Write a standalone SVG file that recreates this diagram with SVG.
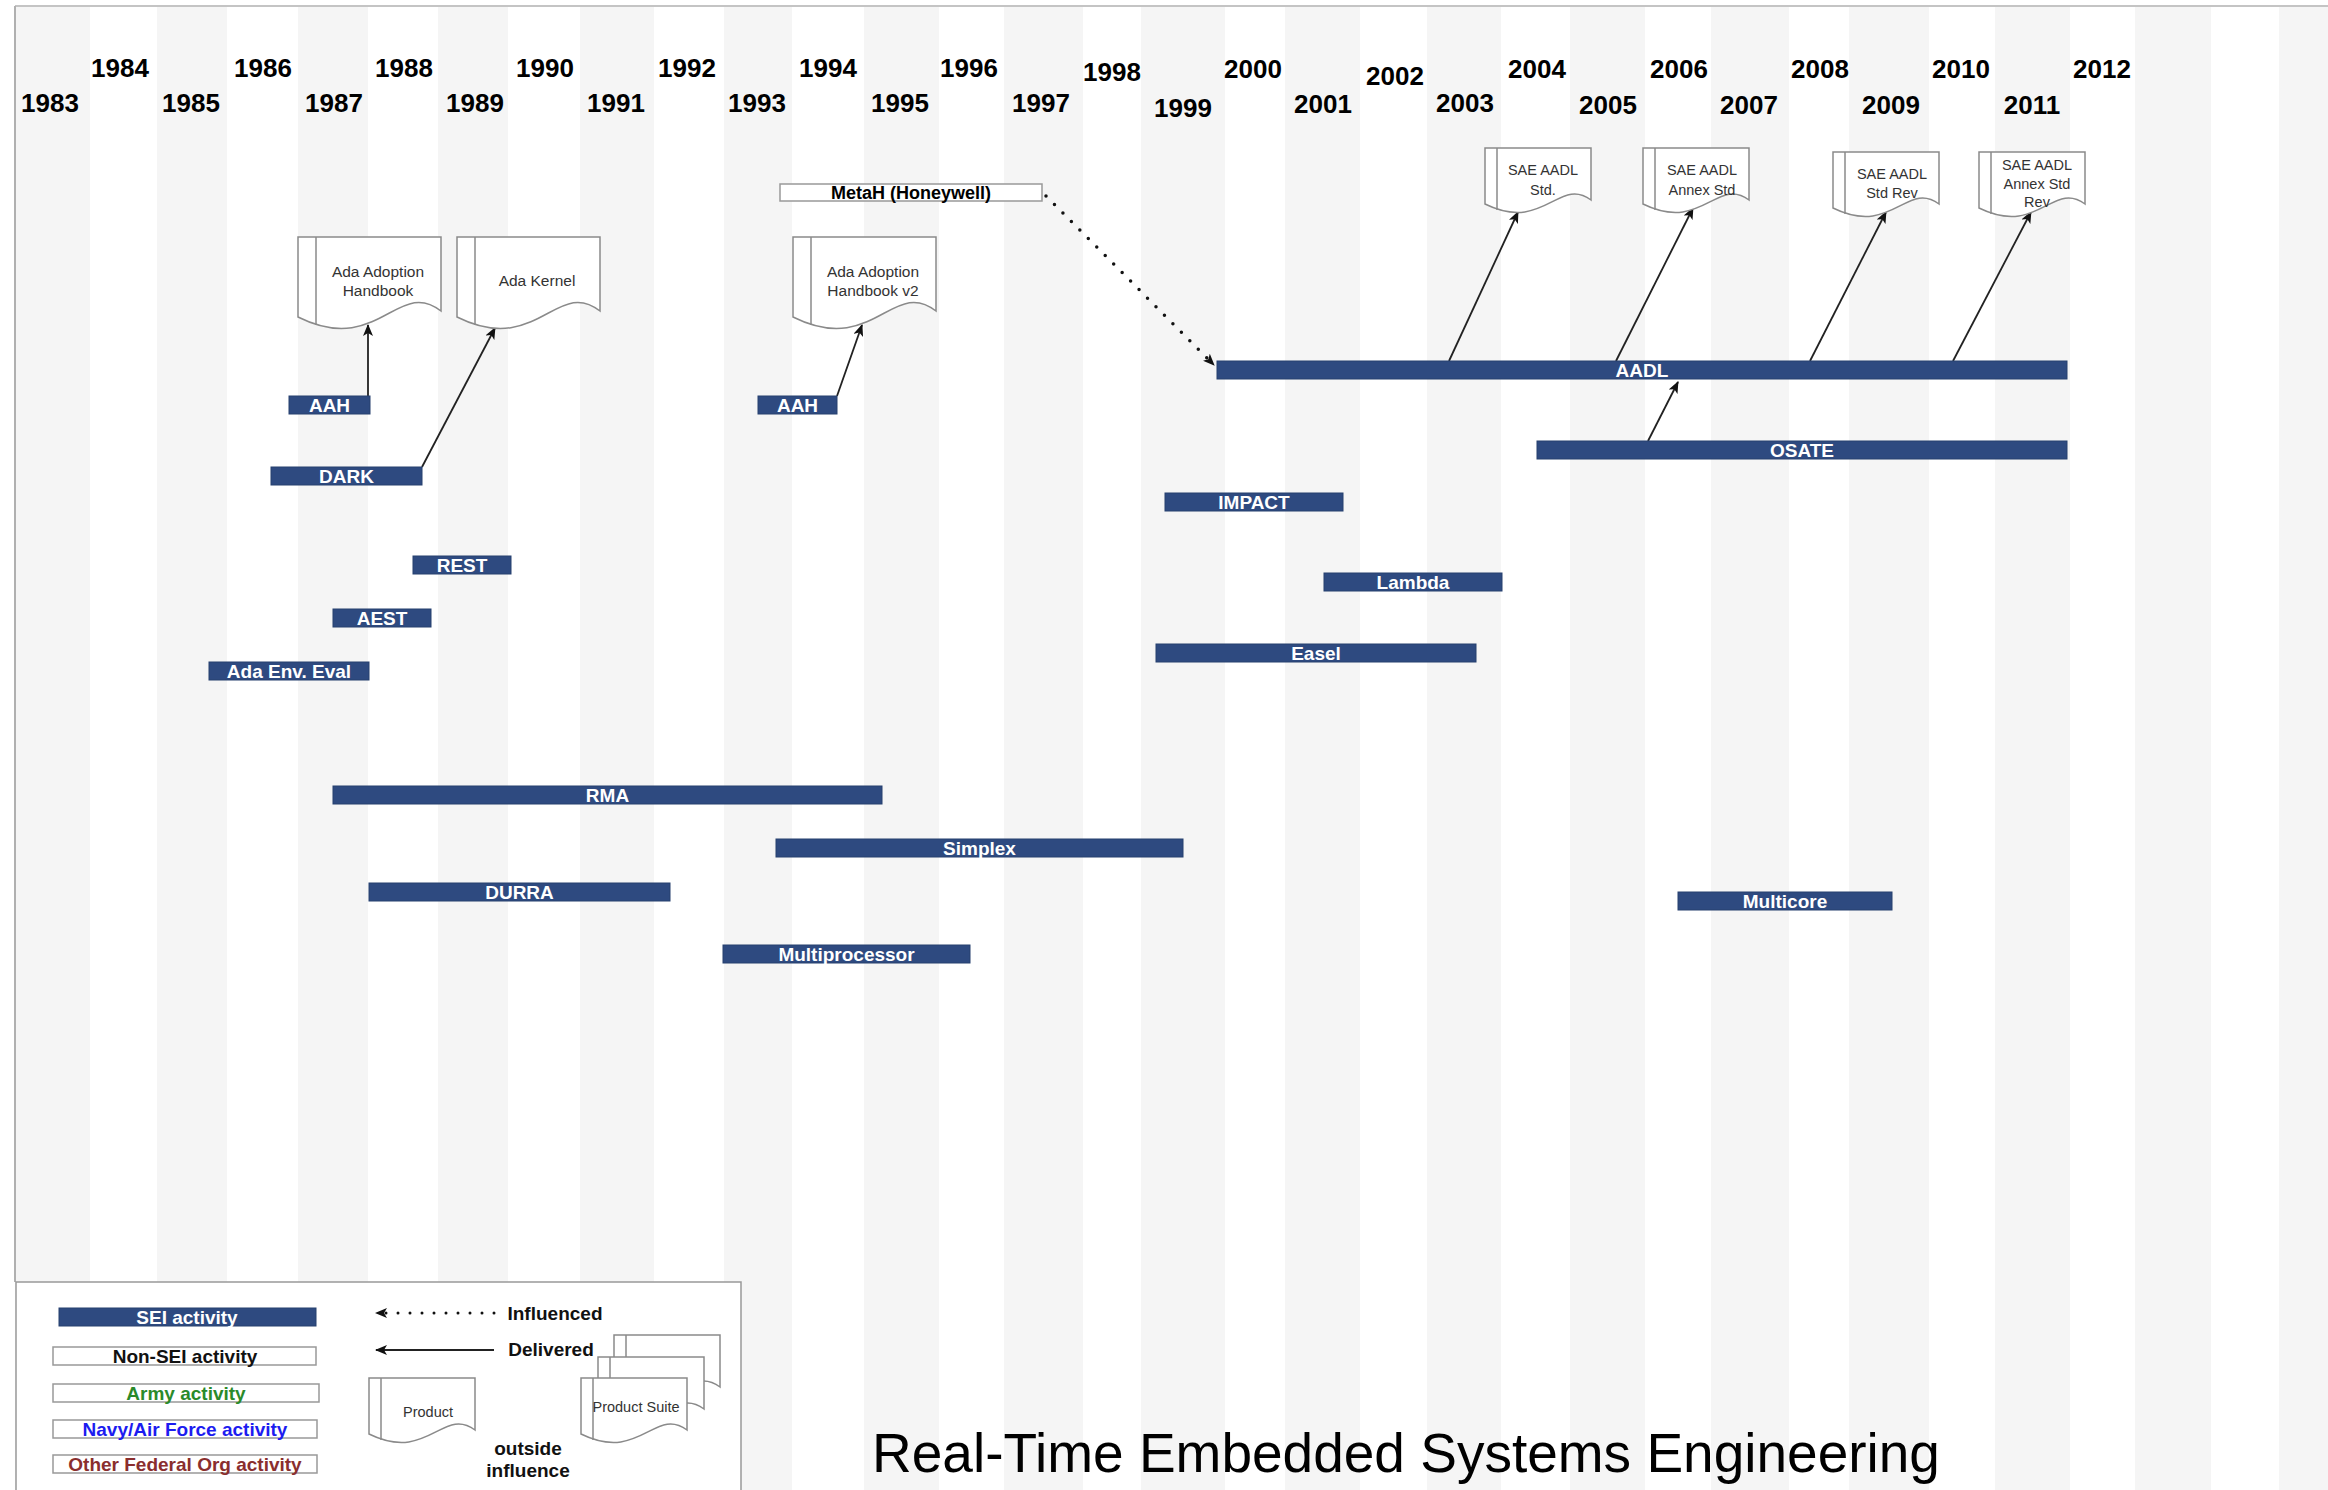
<svg xmlns="http://www.w3.org/2000/svg" xmlns:xlink="http://www.w3.org/1999/xlink" width="2328" height="1490" viewBox="0 0 2328 1490">
  <style>
    .yr { font-family: "Liberation Sans", Arial, sans-serif; font-weight: bold; font-size: 26px; fill: #000; text-anchor: middle; }
    .bar { fill: #2e4a80; stroke: #26406f; stroke-width: 1; }
    .bl { font-family: "Liberation Sans", Arial, sans-serif; font-weight: bold; font-size: 19px; fill: #fff; text-anchor: middle; }
    .box { fill: #fff; stroke: #999; stroke-width: 1.5; }
    .doc { fill: #fff; stroke: #8a8a8a; stroke-width: 1.5; }
    .dt { font-family: "Liberation Sans", Arial, sans-serif; font-size: 15.5px; fill: #333; text-anchor: middle; }
    .st { font-family: "Liberation Sans", Arial, sans-serif; font-size: 14.5px; fill: #333; text-anchor: middle; }
    .lg { font-family: "Liberation Sans", Arial, sans-serif; font-weight: bold; font-size: 19px; text-anchor: middle; }
    .del { stroke: #222; stroke-width: 1.8; fill: none; marker-end: url(#arr); }
    .inf { stroke: #111; stroke-width: 3.5; stroke-linecap: round; stroke-dasharray: 0 12; fill: none; marker-end: url(#arr); }
    .stripe { fill: #f5f5f5; }
  </style>
  <defs>
    <marker id="arr" viewBox="0 0 12 10" refX="11" refY="5" markerWidth="12" markerHeight="10" markerUnits="userSpaceOnUse" orient="auto">
      <path d="M0,0 L12,5 L0,10 L3,5 Z" fill="#111"/>
    </marker>
    <!-- large document shape, 143 x ~90 -->
    <g id="docL">
      <path class="doc" d="M0,0 H143 V74 C100,40 80,120 0,80 Z"/>
      <line x1="18" y1="0" x2="18" y2="88" stroke="#8a8a8a" stroke-width="1.5"/>
    </g>
    <!-- small document shape, 106 x ~64 -->
    <g id="docS">
      <path class="doc" d="M0,0 H106 V52 C74,28 59,85 0,56 Z"/>
      <line x1="12" y1="0" x2="12" y2="62" stroke="#8a8a8a" stroke-width="1.5"/>
    </g>
  </defs>

  <rect width="2328" height="1490" fill="#fff"/>

  <!-- year columns -->
  <g id="columns">
    <rect class="stripe" x="15" y="6" width="75" height="1484"/>
    <rect class="stripe" x="157" y="6" width="70" height="1484"/>
    <rect class="stripe" x="298" y="6" width="70" height="1484"/>
    <rect class="stripe" x="438" y="6" width="70" height="1484"/>
    <rect class="stripe" x="580" y="6" width="74" height="1484"/>
    <rect class="stripe" x="724" y="6" width="68" height="1484"/>
    <rect class="stripe" x="864" y="6" width="75" height="1484"/>
    <rect class="stripe" x="1004" y="6" width="79" height="1484"/>
    <rect class="stripe" x="1141" y="6" width="84" height="1484"/>
    <rect class="stripe" x="1285" y="6" width="75" height="1484"/>
    <rect class="stripe" x="1427" y="6" width="74" height="1484"/>
    <rect class="stripe" x="1570" y="6" width="75" height="1484"/>
    <rect class="stripe" x="1711" y="6" width="78" height="1484"/>
    <rect class="stripe" x="1849" y="6" width="80" height="1484"/>
    <rect class="stripe" x="1995" y="6" width="75" height="1484"/>
    <rect class="stripe" x="2135" y="6" width="76" height="1484"/>
    <rect class="stripe" x="2279" y="6" width="49" height="1484"/>
    <line x1="15" y1="6" x2="2328" y2="6" stroke="#c4c4c4" stroke-width="2"/>
    <line x1="15" y1="6" x2="15" y2="1282" stroke="#b0b0b0" stroke-width="2"/>
  </g>

  <!-- year labels -->
  <g id="years">
    <text class="yr" x="50" y="112">1983</text>
    <text class="yr" x="120" y="77">1984</text>
    <text class="yr" x="191" y="112">1985</text>
    <text class="yr" x="263" y="77">1986</text>
    <text class="yr" x="334" y="112">1987</text>
    <text class="yr" x="404" y="77">1988</text>
    <text class="yr" x="475" y="112">1989</text>
    <text class="yr" x="545" y="77">1990</text>
    <text class="yr" x="616" y="112">1991</text>
    <text class="yr" x="687" y="77">1992</text>
    <text class="yr" x="757" y="112">1993</text>
    <text class="yr" x="828" y="77">1994</text>
    <text class="yr" x="900" y="112">1995</text>
    <text class="yr" x="969" y="77">1996</text>
    <text class="yr" x="1041" y="112">1997</text>
    <text class="yr" x="1112" y="81">1998</text>
    <text class="yr" x="1183" y="117">1999</text>
    <text class="yr" x="1253" y="78">2000</text>
    <text class="yr" x="1323" y="113">2001</text>
    <text class="yr" x="1395" y="85">2002</text>
    <text class="yr" x="1465" y="112">2003</text>
    <text class="yr" x="1537" y="78">2004</text>
    <text class="yr" x="1608" y="114">2005</text>
    <text class="yr" x="1679" y="78">2006</text>
    <text class="yr" x="1749" y="114">2007</text>
    <text class="yr" x="1820" y="78">2008</text>
    <text class="yr" x="1891" y="114">2009</text>
    <text class="yr" x="1961" y="78">2010</text>
    <text class="yr" x="2032" y="114">2011</text>
    <text class="yr" x="2102" y="78">2012</text>
  </g>

  <!-- connectors -->
  <g id="connectors">
    <line class="del" x1="368" y1="396" x2="368" y2="325"/>
    <line class="del" x1="422" y1="467" x2="495" y2="328"/>
    <line class="del" x1="837" y1="396" x2="862" y2="325"/>
    <line class="inf" x1="1046" y1="196" x2="1214" y2="365"/>
    <line class="del" x1="1449" y1="361" x2="1518" y2="212"/>
    <line class="del" x1="1616" y1="361" x2="1693" y2="208"/>
    <line class="del" x1="1810" y1="361" x2="1886" y2="212"/>
    <line class="del" x1="1953" y1="361" x2="2031" y2="212"/>
    <line class="del" x1="1648" y1="441" x2="1678" y2="382"/>
  </g>

  <!-- products -->
  <g id="doc-ada-handbook">
    <use xlink:href="#docL" x="298" y="237"/>
    <text class="dt" x="378" y="277">Ada Adoption</text>
    <text class="dt" x="378" y="296">Handbook</text>
  </g>
  <g id="doc-ada-kernel">
    <use xlink:href="#docL" x="457" y="237"/>
    <text class="dt" x="537" y="286">Ada Kernel</text>
  </g>
  <g id="doc-ada-handbook-v2">
    <use xlink:href="#docL" x="793" y="237"/>
    <text class="dt" x="873" y="277">Ada Adoption</text>
    <text class="dt" x="873" y="296">Handbook v2</text>
  </g>
  <g id="doc-sae-std">
    <use xlink:href="#docS" x="1485" y="148"/>
    <text class="st" x="1543" y="175">SAE AADL</text>
    <text class="st" x="1543" y="195">Std.</text>
  </g>
  <g id="doc-sae-annex">
    <use xlink:href="#docS" x="1643" y="148"/>
    <text class="st" x="1702" y="175">SAE AADL</text>
    <text class="st" x="1702" y="195">Annex Std</text>
  </g>
  <g id="doc-sae-std-rev">
    <use xlink:href="#docS" x="1833" y="152"/>
    <text class="st" x="1892" y="179">SAE AADL</text>
    <text class="st" x="1892" y="198">Std Rev</text>
  </g>
  <g id="doc-sae-annex-rev">
    <use xlink:href="#docS" x="1979" y="152"/>
    <text class="st" x="2037" y="170">SAE AADL</text>
    <text class="st" x="2037" y="189">Annex Std</text>
    <text class="st" x="2037" y="207">Rev</text>
  </g>

  <!-- activities -->
  <g id="metah">
    <rect class="box" x="780" y="184" width="262" height="17"/>
    <text class="lg" x="911" y="199" style="font-size:18px" fill="#000">MetaH (Honeywell)</text>
  </g>
  <g id="aah-1"><rect class="bar" x="289" y="396" width="81" height="18"/><text class="bl" x="329.5" y="412">AAH</text></g>
  <g id="dark"><rect class="bar" x="271" y="467" width="151" height="18"/><text class="bl" x="346.5" y="483">DARK</text></g>
  <g id="aah-2"><rect class="bar" x="758" y="396" width="79" height="18"/><text class="bl" x="797.5" y="412">AAH</text></g>
  <g id="rest"><rect class="bar" x="413" y="556" width="98" height="18"/><text class="bl" x="462" y="572">REST</text></g>
  <g id="aest"><rect class="bar" x="333" y="609" width="98" height="18"/><text class="bl" x="382" y="625">AEST</text></g>
  <g id="ada-env-eval"><rect class="bar" x="209" y="662" width="160" height="18"/><text class="bl" x="289" y="678">Ada Env. Eval</text></g>
  <g id="impact"><rect class="bar" x="1165" y="493" width="178" height="18"/><text class="bl" x="1254" y="509">IMPACT</text></g>
  <g id="lambda"><rect class="bar" x="1324" y="573" width="178" height="18"/><text class="bl" x="1413" y="589">Lambda</text></g>
  <g id="easel"><rect class="bar" x="1156" y="644" width="320" height="18"/><text class="bl" x="1316" y="660">Easel</text></g>
  <g id="aadl"><rect class="bar" x="1217" y="361" width="850" height="18"/><text class="bl" x="1642" y="377">AADL</text></g>
  <g id="osate"><rect class="bar" x="1537" y="441" width="530" height="18"/><text class="bl" x="1802" y="457">OSATE</text></g>
  <g id="rma"><rect class="bar" x="333" y="786" width="549" height="18"/><text class="bl" x="607.5" y="802">RMA</text></g>
  <g id="simplex"><rect class="bar" x="776" y="839" width="407" height="18"/><text class="bl" x="979.5" y="855">Simplex</text></g>
  <g id="durra"><rect class="bar" x="369" y="883" width="301" height="18"/><text class="bl" x="519.5" y="899">DURRA</text></g>
  <g id="multiprocessor"><rect class="bar" x="723" y="945" width="247" height="18"/><text class="bl" x="846.5" y="961">Multiprocessor</text></g>
  <g id="multicore"><rect class="bar" x="1678" y="892" width="214" height="18"/><text class="bl" x="1785" y="908">Multicore</text></g>

  <!-- key -->
  <g id="legend">
    <rect x="16" y="1282" width="725" height="210" fill="#fff" stroke="#999" stroke-width="1.5"/>
    <rect class="bar" x="59" y="1308" width="257" height="18"/>
    <text class="bl" x="187" y="1324">SEI activity</text>
    <rect class="box" x="53" y="1347" width="263" height="18"/>
    <text class="lg" x="185" y="1363" fill="#111">Non-SEI activity</text>
    <rect class="box" x="53" y="1384" width="266" height="18"/>
    <text class="lg" x="186" y="1400" fill="#2a8a2a">Army activity</text>
    <rect class="box" x="53" y="1420" width="264" height="18"/>
    <text class="lg" x="185" y="1436" fill="#1c1cf0">Navy/Air Force activity</text>
    <rect class="box" x="53" y="1455" width="264" height="18"/>
    <text class="lg" x="185" y="1471" fill="#8a2e2e">Other Federal Org activity</text>

    <line class="inf" x1="494" y1="1313" x2="376" y2="1313" style="stroke-width:3"/>
    <text class="lg" x="555" y="1320" fill="#111">Influenced</text>
    <line class="del" x1="494" y1="1350" x2="376" y2="1350"/>
    <text class="lg" x="551" y="1356" fill="#111">Delivered</text>

    <use xlink:href="#docS" x="369" y="1378"/>
    <text class="st" x="428" y="1417">Product</text>

    <use xlink:href="#docS" x="614" y="1335"/>
    <use xlink:href="#docS" x="598" y="1357"/>
    <use xlink:href="#docS" x="581" y="1378"/>
    <text class="st" x="636" y="1412">Product Suite</text>

    <text class="lg" x="528" y="1455" fill="#111">outside</text>
    <text class="lg" x="528" y="1477" fill="#111">influence</text>
  </g>

  <text id="title" x="1406" y="1472" font-family="'Liberation Sans', Arial, sans-serif" font-size="55" fill="#000" text-anchor="middle">Real-Time Embedded Systems Engineering</text>
</svg>
